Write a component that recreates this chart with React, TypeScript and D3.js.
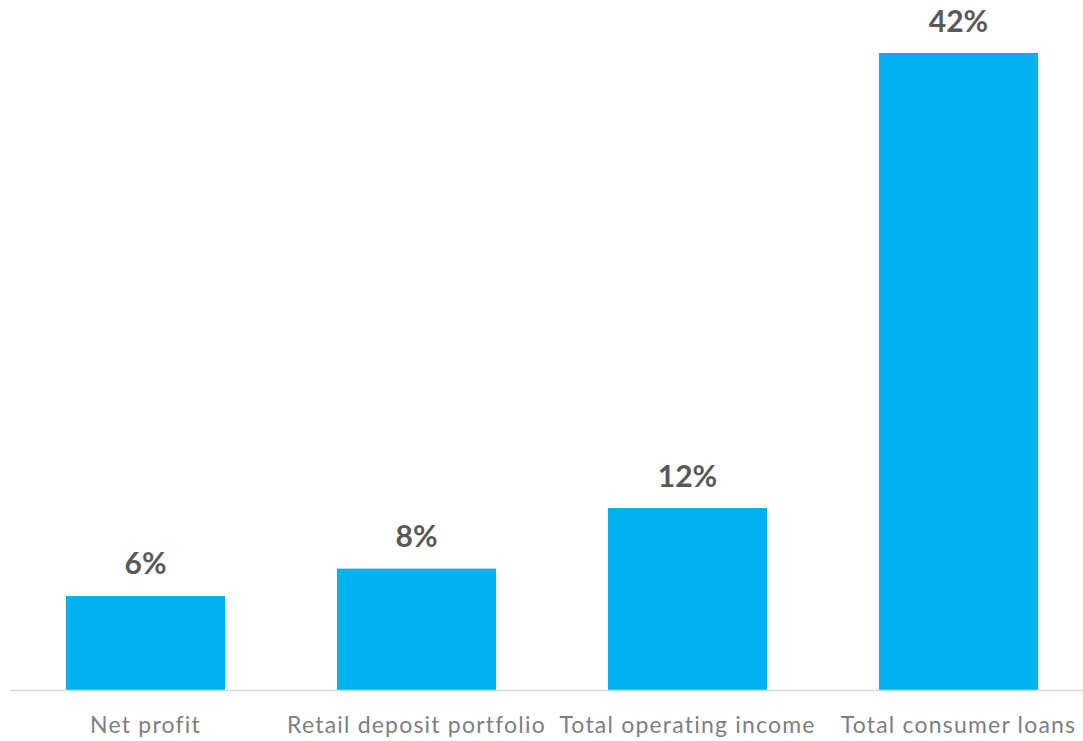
import React from "react";
import * as d3 from "d3";

const categories = ["Net profit", "Retail deposit portfolio", "Total operating income", "Total consumer loans"];
const values = [6.2, 8, 12, 42];
const valueLabels = ["6%", "8%", "12%", "42%"];

const W = 1083;
const H = 741;
const baseY = 690;

export default function App() {
  const x = d3.scaleBand<string>().domain(categories).range([10, 1094]).paddingInner(0.413).paddingOuter(0.2065);
  const y = d3.scaleLinear().domain([0, 42]).range([baseY, 53]);
  return (
    <svg width={W} height={H} style={{ position: "absolute", left: 0, top: 0, background: "#fff" }}>
      {categories.map((c, i) => (
        <g key={c}>
          <rect x={x(c)} y={y(values[i])} width={x.bandwidth()} height={baseY - y(values[i])} fill="#00B0F0" />
          <text
            x={(x(c) as number) + x.bandwidth() / 2}
            y={y(values[i]) - 21.5}
            textAnchor="middle"
            fontFamily="Lato"
            fontWeight="bold"
            fontSize={30}
            fill="#595959"
          >
            {valueLabels[i]}
          </text>
          <text
            x={(x(c) as number) + x.bandwidth() / 2}
            y={733}
            textAnchor="middle"
            fontFamily="Lato"
            fontSize={23}
            letterSpacing={1.2}
            fill="#7F7F7F"
          >
            {c}
          </text>
        </g>
      ))}
      <line x1={10} x2={W} y1={baseY + 0.5} y2={baseY + 0.5} stroke="#D9D9D9" strokeWidth={1.5} />
    </svg>
  );
}
